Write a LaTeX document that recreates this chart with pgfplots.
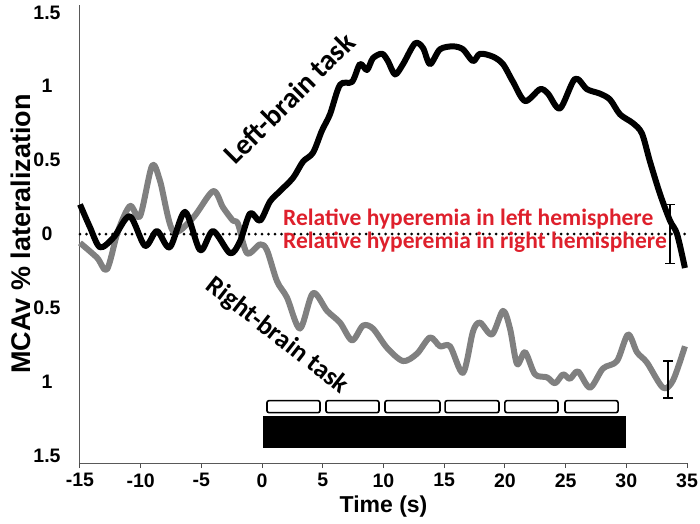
\documentclass[border=0pt]{standalone}
\usepackage{pgfplots}
\pgfplotsset{compat=1.18}
\usepackage{fontspec}
\setmainfont{Liberation Sans}
\newfontfamily\calfont{Carlito}
\definecolor{grayline}{RGB}{128,128,128}
\definecolor{redtxt}{RGB}{222,32,44}
\begin{document}
\begin{tikzpicture}
\begin{axis}[
  name=ax,
  scale only axis, width=607pt, height=458pt,
  xmin=-15, xmax=35, ymin=-1.55, ymax=1.55,
  axis x line*=bottom, axis y line*=left,
  axis line style={black!65, line width=1pt},
  xtick={-15,-10,...,35}, ytick={-1.5,-1,-0.5,0,0.5,1,1.5},
  yticklabels={1.5,1,0.5,0,0.5,1,1.5},
  x tick style={black!70, line width=1pt}, tick align=outside, major tick length=5pt,
  y tick style={draw=none},
  /pgf/number format/assume math mode=true,
  ticklabel style={font=\bfseries\fontsize{19.5}{19.5}\selectfont},
  xticklabel style={yshift=-2pt},
  yticklabel style={anchor=center, xshift=-28pt},
  xlabel={Time (s)}, ylabel={MCAv \% lateralization},
  xlabel style={font=\bfseries\fontsize{23}{23}\selectfont, yshift=-2pt},
  ylabel style={font=\bfseries\fontsize{27}{27}\selectfont, yshift=-4pt},
  clip=false,
]
% dotted zero line
\addplot[black, line width=3pt, line cap=round, dash pattern=on 0pt off 6.5pt] coordinates {(-15,0) (34.9,0)};
% right-brain task (gray)
\addplot[grayline, line width=6pt, smooth, line join=round] coordinates {
(-15,-0.06) (-13.6,-0.16) (-12.78,-0.24) (-11.87,0.02) (-10.88,0.19) (-10.06,0.12)
(-9.07,0.46) (-8.41,0.36) (-7.34,0.02) (-5.69,0.11) (-4.04,0.29) (-3.22,0.18)
(-2.40,0.09) (-1.99,0.07) (-1.24,-0.13) (-0.17,-0.07) (0.40,-0.11) (1.23,-0.32)
(2.05,-0.43) (3.12,-0.64) (4.19,-0.40) (5.35,-0.52) (6.42,-0.60) (7.41,-0.72)
(8.31,-0.62) (9.13,-0.64) (10.29,-0.77) (11.61,-0.86) (12.76,-0.81) (13.83,-0.70)
(14.65,-0.76) (15.48,-0.76) (16.55,-0.94) (17.37,-0.66) (17.95,-0.60) (18.94,-0.68)
(19.84,-0.52) (20.42,-0.64) (21.00,-0.88) (21.66,-0.80) (22.48,-0.95) (23.47,-0.97)
(24.13,-1.01) (24.79,-0.95) (25.36,-0.98) (26.02,-0.93) (27.01,-1.04) (28.08,-0.91)
(29.23,-0.86) (30.14,-0.68) (30.88,-0.80) (31.70,-0.87) (33.02,-1.04) (33.85,-0.99)
(34.83,-0.76)};
% left-brain task (black)
\addplot[black, line width=6pt, smooth, line join=round] coordinates {
(-15,0.20) (-14.2,0.05) (-13.35,-0.09) (-12.2,-0.02) (-10.9,0.12) (-9.65,-0.08)
(-8.66,0.02) (-7.6,-0.09) (-6.35,0.15) (-5.1,-0.11) (-4.04,0.02) (-2.64,-0.13)
(-1.82,-0.05) (-0.99,0.14) (-0.17,0.09) (0.65,0.22) (1.47,0.29) (2.55,0.38)
(3.37,0.49) (4.19,0.55) (4.93,0.70) (5.59,0.81) (6.42,1.01) (7.41,1.03)
(8.06,1.15) (8.64,1.11) (9.13,1.19) (9.88,1.22) (10.37,1.17) (10.95,1.08)
(11.61,1.15) (12.59,1.29) (13.25,1.26) (13.83,1.15) (14.65,1.25) (15.72,1.27)
(16.55,1.25) (17.37,1.17) (17.95,1.22) (19.02,1.20) (19.84,1.15) (20.67,1.03)
(21.66,0.90) (22.89,0.98) (23.55,0.95) (24.54,0.85) (25.77,1.05) (26.76,0.98)
(27.83,0.95) (28.66,0.91) (29.48,0.81) (30.55,0.75) (31.29,0.68) (31.95,0.49)
(32.78,0.27) (33.60,0.09) (34.18,0.0) (34.83,-0.23)};
% error bars
\addplot[draw=none, mark=none, error bars/.cd, y dir=both, y explicit,
  error bar style={black, line width=1.6pt},
  error mark options={rotate=90, mark size=5pt, black, line width=1.6pt}]
  coordinates {(33.6,0) +- (0,0.2) (33.45,-0.985) +- (0,0.125)};
% stimulus boxes
\addplot[black, fill=white, line width=1.6pt, rounded corners=2pt] coordinates {(0.40,-1.128) (4.77,-1.128) (4.77,-1.209) (0.40,-1.209)} --cycle;
\addplot[black, fill=white, line width=1.6pt, rounded corners=2pt] coordinates {(5.26,-1.128) (9.63,-1.128) (9.63,-1.209) (5.26,-1.209)} --cycle;
\addplot[black, fill=white, line width=1.6pt, rounded corners=2pt] coordinates {(10.12,-1.128) (14.65,-1.128) (14.65,-1.209) (10.12,-1.209)} --cycle;
\addplot[black, fill=white, line width=1.6pt, rounded corners=2pt] coordinates {(15.07,-1.128) (19.51,-1.128) (19.51,-1.209) (15.07,-1.209)} --cycle;
\addplot[black, fill=white, line width=1.6pt, rounded corners=2pt] coordinates {(20.0,-1.128) (24.37,-1.128) (24.37,-1.209) (20.0,-1.209)} --cycle;
\addplot[black, fill=white, line width=1.6pt, rounded corners=2pt] coordinates {(24.95,-1.128) (29.32,-1.128) (29.32,-1.209) (24.95,-1.209)} --cycle;
\addplot[black, fill=black, line width=0.5pt] coordinates {(0.07,-1.236) (29.9,-1.236) (29.9,-1.446) (0.07,-1.446)} --cycle;
% annotations
\node[rotate=45, font=\calfont\bfseries\fontsize{29}{29}\selectfont] at (axis cs:2.22,0.92) {Left-brain task};
\node[rotate=-38, font=\calfont\bfseries\fontsize{26.5}{26.5}\selectfont] at (axis cs:1.23,-0.69) {Right-brain task};
\node[anchor=base west, inner sep=0pt, text=redtxt, font=\calfont\bfseries\fontsize{23.5}{23.5}\selectfont] at (axis cs:1.72,0.06) {Relative hyperemia in left hemisphere};
\node[anchor=base west, inner sep=0pt, text=redtxt, font=\calfont\bfseries\fontsize{23.5}{23.5}\selectfont] at (axis cs:1.72,-0.1) {Relative hyperemia in right hemisphere};
\end{axis}
\pgfresetboundingbox
\path[use as bounding box] ([xshift=-80pt,yshift=-60pt]ax.south west) rectangle ([xshift=13pt,yshift=5pt]ax.north east);
\end{tikzpicture}
\end{document}
